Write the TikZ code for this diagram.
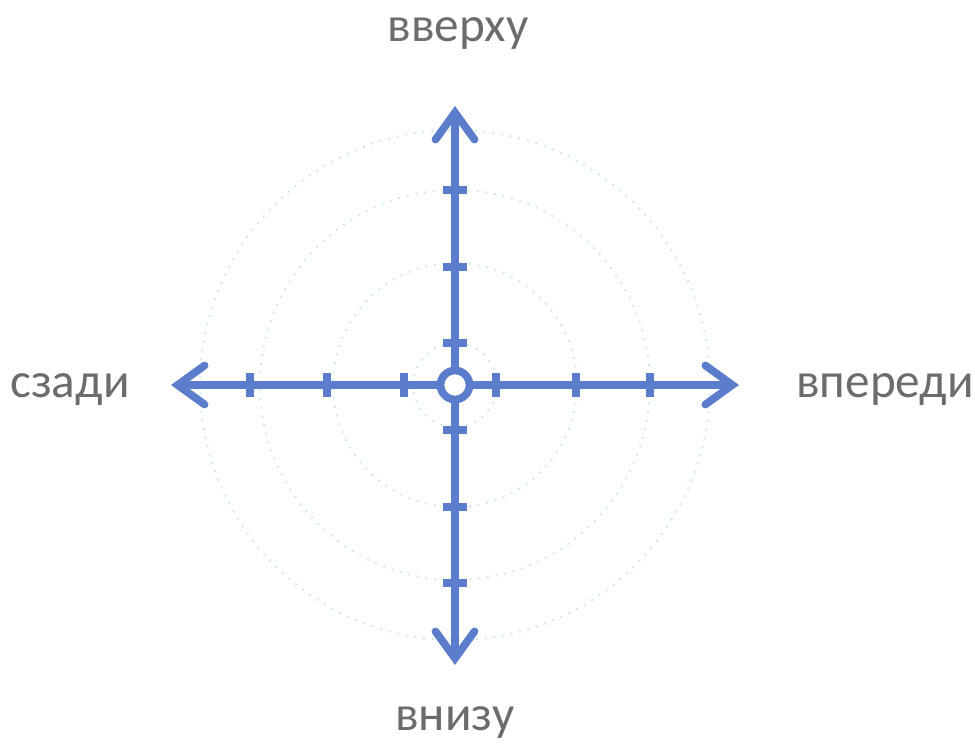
\documentclass[tikz,border=0pt]{standalone}
\usepackage{fontspec}
\setmainfont{Carlito}
\usepackage{tikz}
\usetikzlibrary{positioning,arrows.meta}
\definecolor{axisblue}{RGB}{92,124,204}
\definecolor{ringgray}{RGB}{205,228,228}
\definecolor{labelgray}{RGB}{108,108,108}

\begin{document}
\begin{tikzpicture}[
  x=0.01cm, y=-0.01cm,
  axis/.style={-{Straight Barb[length=2.7mm, width=3.9mm, line cap=round]},
    axisblue, line width=2.2pt},
  tick/.style={axisblue, line width=2.2pt},
  ring/.style={ringgray, dotted, line width=0.5pt},
  hub/.style={circle, draw=axisblue, fill=white, line width=2.2pt,
    minimum size=2.9mm, inner sep=0pt},
  lbl/.style={font=\fontsize{14}{16}\selectfont, text=labelgray, anchor=base},
]
  \useasboundingbox (0,0) rectangle (975,752);

  % Reference circles
  \foreach \r in {42,122,195,255}
    \draw[ring] (455,385) circle (\r);

  % Axis ends
  \coordinate (up) at (455,106);
  \coordinate (down) at (455,665);
  \coordinate (back) at (171,385);
  \coordinate (front) at (739,385);

  % Ticks
  \foreach \y in {190,267,343,430,507,583}
    \draw[tick] (443,\y) -- (467,\y);
  \foreach \x in {250,327,404,496,576,650}
    \draw[tick] (\x,373) -- (\x,397);

  % Hub and axes
  \node[hub] (hub) at (455,385) {};
  \draw[axis] (hub) -- (up);
  \draw[axis] (hub) -- (down);
  \draw[axis] (hub) -- (back);
  \draw[axis] (hub) -- (front);

  % Labels
  \node[lbl] (top) at (458,42) {вверху};
  \node[lbl] (bottom) at (455,731) {внизу};
  \node[lbl] (left) at (70,398) {сзади};
  \node[lbl] (right) at (885,398) {впереди};
\end{tikzpicture}
\end{document}
